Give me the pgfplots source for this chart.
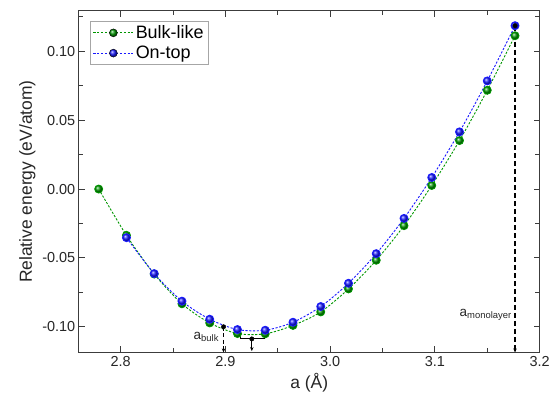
\documentclass[border=0pt]{standalone}
\usepackage{fontspec}
\setmainfont{Liberation Sans}
\usepackage{pgfplots}
\pgfplotsset{compat=1.18}
\usetikzlibrary{arrows.meta}

\definecolor{bulkgreen}{RGB}{0,150,0}
\definecolor{ontopblue}{RGB}{25,25,255}
\definecolor{framegray}{RGB}{60,60,60}

% legend sample: short dashed line with a shaded ball in the middle
\pgfplotsset{
  ballkey/.style={legend image code/.code={
    \path[draw=#1, line width=0.9pt, dash pattern=on 2.2pt off 1.6pt]
      (0pt,0pt) -- (40pt,0pt);
    \shade[ball color=#1] (20pt,0pt) circle (4pt);
  }},
}

\begin{document}
\begin{tikzpicture}
\begin{axis}[
  scale only axis,
  width=462pt, height=342.6pt,
  xmin=2.76, xmax=3.2,
  ymin=-0.1186, ymax=0.1295,
  xtick={2.8,2.9,3.0,3.1,3.2},
  ytick={-0.1,-0.05,0,0.05,0.1},
  minor xtick={2.85,2.95,3.05,3.15},
  minor ytick={-0.075,-0.025,0.025,0.075,0.125},
  tick align=inside,
  major tick length=6pt, minor tick length=4.5pt,
  axis line style={framegray, line width=1.2pt},
  every tick/.style={framegray, line width=1pt},
  /pgf/number format/assume math mode=true,
  tick label style={font=\fontsize{14.5}{16}\selectfont, text=black!85},
  xticklabel style={/pgf/number format/.cd, fixed, fixed zerofill, precision=1},
  yticklabel style={/pgf/number format/.cd, fixed, fixed zerofill, precision=2},
  xlabel={a (Å)}, ylabel={Relative energy (eV/atom)},
  label style={font=\fontsize{17.5}{20}\selectfont, text=black!85},
  clip=false,
  legend cell align=left,
  legend style={at={(axis description cs:0.0238,0.970)}, anchor=north west,
    draw=gray!70, font=\fontsize{18}{20}\selectfont,
    inner xsep=3pt, inner ysep=2.5pt, row sep=2pt},
]
\addlegendimage{ballkey=bulkgreen}
\addlegendentry{Bulk-like}
\addlegendimage{ballkey=ontopblue}
\addlegendentry{On-top}

% Bulk-like stacking
\addplot[color=bulkgreen, line width=0.9pt,
  dash pattern=on 2.2pt off 1.6pt, smooth,
  mark=ball, mark size=4pt,
  mark options={solid, ball color=bulkgreen}, forget plot]
  coordinates {
  (2.7790, 0.0000) (2.8055,-0.0336) (2.8320,-0.0617) (2.8585,-0.0833)
  (2.8850,-0.0972) (2.9115,-0.1049) (2.9380,-0.1051) (2.9645,-0.0990)
  (2.9910,-0.0892) (3.0175,-0.0725) (3.0440,-0.0517) (3.0705,-0.0266)
  (3.0970, 0.0026) (3.1235, 0.0352) (3.1500, 0.0717) (3.1765, 0.1113)
  };
% On-top stacking
\addplot[color=ontopblue, line width=0.9pt,
  dash pattern=on 2.2pt off 1.6pt, smooth,
  mark=ball, mark size=4pt,
  mark options={solid, ball color=ontopblue}, forget plot]
  coordinates {
  (2.8055,-0.0353) (2.8320,-0.0614) (2.8585,-0.0814)
  (2.8850,-0.0945) (2.9115,-0.1020) (2.9380,-0.1025) (2.9645,-0.0967)
  (2.9910,-0.0853) (3.0175,-0.0684) (3.0440,-0.0469) (3.0705,-0.0213)
  (3.0970, 0.0084) (3.1235, 0.0415) (3.1500, 0.0785) (3.1765, 0.1186)
  };

% lattice-constant markers
\addplot[black, line width=1.1pt, dash pattern=on 4pt off 2.5pt,
  -{Stealth[length=4pt,width=3.5pt]}, forget plot]
  coordinates {(2.8982,-0.1000) (2.8982,-0.1186)};
\addplot[black, line width=1.1pt, dash pattern=on 5pt off 3pt,
  -{Stealth[length=4pt,width=3.5pt]}, forget plot]
  coordinates {(3.1765,0.1186) (3.1765,-0.1186)};
\addplot[black, line width=1.1pt, forget plot]
  coordinates {(2.9140,-0.1058) (2.9140,-0.1088) (2.9370,-0.1088) (2.9370,-0.1058)};
\addplot[black, line width=1.1pt, -{Stealth[length=4pt,width=3.5pt]}, forget plot]
  coordinates {(2.9252,-0.1088) (2.9252,-0.1176)};
\addplot[only marks, mark=*, mark size=2.2pt, black, forget plot]
  coordinates {(2.8982,-0.1000) (2.9252,-0.1088) (3.1765,0.1186)};

\node[anchor=east, font=\fontsize{13.5}{15}\selectfont, text=black!85, inner sep=1pt]
  at (axis cs:2.8950,-0.1072) {a\textsubscript{bulk}};
\node[anchor=east, font=\fontsize{13.5}{15}\selectfont, text=black!85, inner sep=1pt]
  at (axis cs:3.1745,-0.0915) {a\textsubscript{monolayer}};
\end{axis}
\path (current axis.south west) ++(-79pt,-50.7pt) coordinate (bbsw);
\path (current axis.north east) ++(12pt,10.7pt) coordinate (bbne);
\path (bbsw) rectangle (bbne);
\end{tikzpicture}
\end{document}
